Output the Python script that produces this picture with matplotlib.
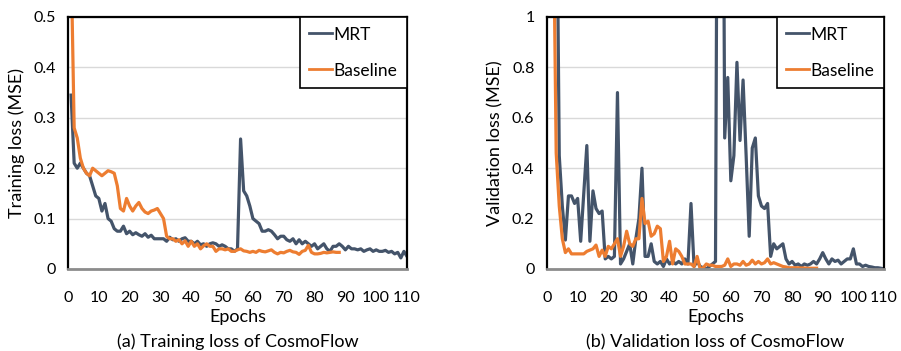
import matplotlib
matplotlib.use("Agg")
import matplotlib.pyplot as plt

plt.rcParams['font.family'] = ['Lato', 'DejaVu Sans']

# ---------------- data ----------------
train_mrt_epochs = list(range(1, 111))
train_mrt = [0.345, 0.21, 0.20, 0.21, 0.20, 0.19, 0.185, 0.165, 0.145, 0.14,
             0.115, 0.13, 0.10, 0.095, 0.08, 0.075, 0.075, 0.085, 0.07, 0.075,
             0.068, 0.072, 0.068, 0.065, 0.07, 0.063, 0.067, 0.06, 0.06, 0.06,
             0.06, 0.055, 0.063, 0.058, 0.06, 0.055, 0.06, 0.062, 0.055, 0.055,
             0.05, 0.055, 0.048, 0.05, 0.045, 0.05, 0.052, 0.05, 0.045, 0.048,
             0.045, 0.04, 0.04, 0.035, 0.04, 0.258, 0.155, 0.145, 0.125, 0.10,
             0.095, 0.09, 0.075, 0.075, 0.078, 0.075, 0.068, 0.06, 0.065, 0.065,
             0.058, 0.055, 0.06, 0.05, 0.058, 0.05, 0.055, 0.05, 0.045, 0.05,
             0.04, 0.045, 0.05, 0.04, 0.035, 0.045, 0.045, 0.05, 0.045, 0.038,
             0.045, 0.04, 0.04, 0.038, 0.04, 0.035, 0.038, 0.04, 0.035, 0.038,
             0.035, 0.035, 0.037, 0.033, 0.035, 0.03, 0.033, 0.022, 0.035, 0.025]

train_base_epochs = list(range(1, 89))
train_base = [0.62, 0.28, 0.26, 0.22, 0.20, 0.19, 0.185, 0.20, 0.195, 0.19,
              0.185, 0.19, 0.195, 0.193, 0.19, 0.165, 0.12, 0.115, 0.14, 0.125,
              0.115, 0.125, 0.132, 0.12, 0.113, 0.11, 0.115, 0.117, 0.12, 0.11,
              0.10, 0.065, 0.06, 0.06, 0.055, 0.058, 0.05, 0.056, 0.045, 0.055,
              0.045, 0.05, 0.04, 0.046, 0.05, 0.045, 0.045, 0.035, 0.04, 0.04,
              0.038, 0.04, 0.035, 0.035, 0.038, 0.04, 0.036, 0.035, 0.033, 0.035,
              0.033, 0.037, 0.035, 0.034, 0.036, 0.038, 0.033, 0.030, 0.033, 0.032,
              0.035, 0.037, 0.034, 0.033, 0.029, 0.035, 0.037, 0.047, 0.033, 0.03,
              0.03, 0.031, 0.033, 0.032, 0.033, 0.034, 0.033, 0.033]

val_mrt_epochs = list(range(3, 111))
val_mrt = [1.8, 0.45, 0.25, 0.115, 0.29, 0.29, 0.26, 0.28, 0.11, 0.30,
           0.49, 0.11, 0.31, 0.24, 0.22, 0.23, 0.04, 0.05, 0.04, 0.05,
           0.70, 0.02, 0.04, 0.07, 0.10, 0.02, 0.12, 0.20, 0.40, 0.05,
           0.05, 0.10, 0.03, 0.02, 0.03, 0.01, 0.04, 0.02, 0.03, 0.02,
           0.03, 0.02, 0.04, 0.02, 0.26, 0.01, 0.03, 0.01, 0.005, 0.0,
           0.01, 0.02, 0.03, 3.0, 3.0, 0.52, 0.76, 0.35, 0.45, 0.82,
           0.51, 0.75, 0.45, 0.13, 0.48, 0.52, 0.29, 0.25, 0.24, 0.26,
           0.05, 0.10, 0.08, 0.09, 0.10, 0.04, 0.02, 0.03, 0.015, 0.02,
           0.01, 0.02, 0.015, 0.02, 0.03, 0.02, 0.04, 0.065, 0.04, 0.02,
           0.04, 0.03, 0.035, 0.02, 0.03, 0.04, 0.04, 0.08, 0.02, 0.02,
           0.01, 0.015, 0.01, 0.008, 0.005, 0.005, 0.003, 0.0]

val_base_epochs = list(range(2, 89))
val_base = [1.5, 0.46, 0.25, 0.12, 0.065, 0.08, 0.06, 0.06, 0.06, 0.06,
            0.06, 0.07, 0.075, 0.08, 0.095, 0.05, 0.075, 0.05, 0.09, 0.08,
            0.10, 0.12, 0.05, 0.09, 0.15, 0.10, 0.09, 0.12, 0.12, 0.28,
            0.18, 0.19, 0.13, 0.14, 0.17, 0.16, 0.03, 0.05, 0.11, 0.02,
            0.08, 0.07, 0.05, 0.02, 0.02, 0.02, 0.01, 0.05, 0.0, 0.005,
            0.02, 0.015, 0.015, 0.01, 0.01, 0.01, 0.015, 0.04, 0.01, 0.02,
            0.02, 0.015, 0.03, 0.015, 0.02, 0.035, 0.02, 0.03, 0.02, 0.025,
            0.04, 0.02, 0.025, 0.02, 0.015, 0.01, 0.008, 0.005, 0.005, 0.005,
            0.005, 0.004, 0.004, 0.003, 0.003, 0.003, 0.003]

x_ticks = list(range(0, 111, 10))
train_yticks = [0, 0.1, 0.2, 0.3, 0.4, 0.5]
train_ylabels = ['0', '0.1', '0.2', '0.3', '0.4', '0.5']
val_yticks = [0, 0.2, 0.4, 0.6, 0.8, 1.0]
val_ylabels = ['0', '0.2', '0.4', '0.6', '0.8', '1']

MRT_COLOR = '#44546A'
BASE_COLOR = '#ED7D31'
LW = 2.3

fig = plt.figure(figsize=(9.01, 3.51), dpi=100)
ax1 = fig.add_axes([68 / 901, (351 - 269) / 351, 339 / 901, 252 / 351])
ax2 = fig.add_axes([547 / 901, (351 - 269) / 351, 337 / 901, 252 / 351])


def style(ax, yticks, ylabels, ymax, ylabel, caption):
    ax.set_xlim(0, 110)
    ax.set_ylim(0, ymax)
    ax.set_xticks(x_ticks)
    ax.set_yticks(yticks)
    ax.set_yticklabels(ylabels)
    ax.tick_params(axis='x', length=0, labelsize=11.5, pad=16)
    ax.tick_params(axis='y', length=0, labelsize=11.5, pad=9)
    ax.grid(axis='y', color='#d9d9d9', linewidth=1.0)
    ax.set_axisbelow(True)
    for s in ['left', 'top', 'right']:
        ax.spines[s].set_color('black')
        ax.spines[s].set_linewidth(1.6)
    ax.spines['bottom'].set_color('#8c8c8c')
    ax.spines['bottom'].set_linewidth(2.0)
    ax.set_xlabel('Epochs', fontsize=13, labelpad=3)
    ax.set_ylabel(ylabel, fontsize=13, labelpad=6)
    leg = ax.legend(loc='upper right', borderaxespad=0, fontsize=12.5,
                    handlelength=1.3, handletextpad=0.1, labelspacing=1.15,
                    borderpad=0.55, fancybox=False, framealpha=1,
                    edgecolor='black')
    leg.get_frame().set_linewidth(1.2)
    for line in leg.get_lines():
        line.set_linewidth(2.0)
    bb = ax.get_position()
    fig.text(bb.x0 + bb.width / 2, (351 - 342) / 351, caption, ha='center',
             va='center', fontsize=13)


ax1.plot(train_mrt_epochs, train_mrt, color=MRT_COLOR, lw=LW, label='MRT')
ax1.plot(train_base_epochs, train_base, color=BASE_COLOR, lw=LW, label='Baseline')
style(ax1, train_yticks, train_ylabels, 0.5, 'Training loss (MSE)',
      '(a) Training loss of CosmoFlow')

ax2.plot(val_mrt_epochs, val_mrt, color=MRT_COLOR, lw=LW, label='MRT')
ax2.plot(val_base_epochs, val_base, color=BASE_COLOR, lw=LW, label='Baseline')
style(ax2, val_yticks, val_ylabels, 1.0, 'Validation loss (MSE)',
      '(b) Validation loss of CosmoFlow')

fig.savefig('out.png', dpi=100)
